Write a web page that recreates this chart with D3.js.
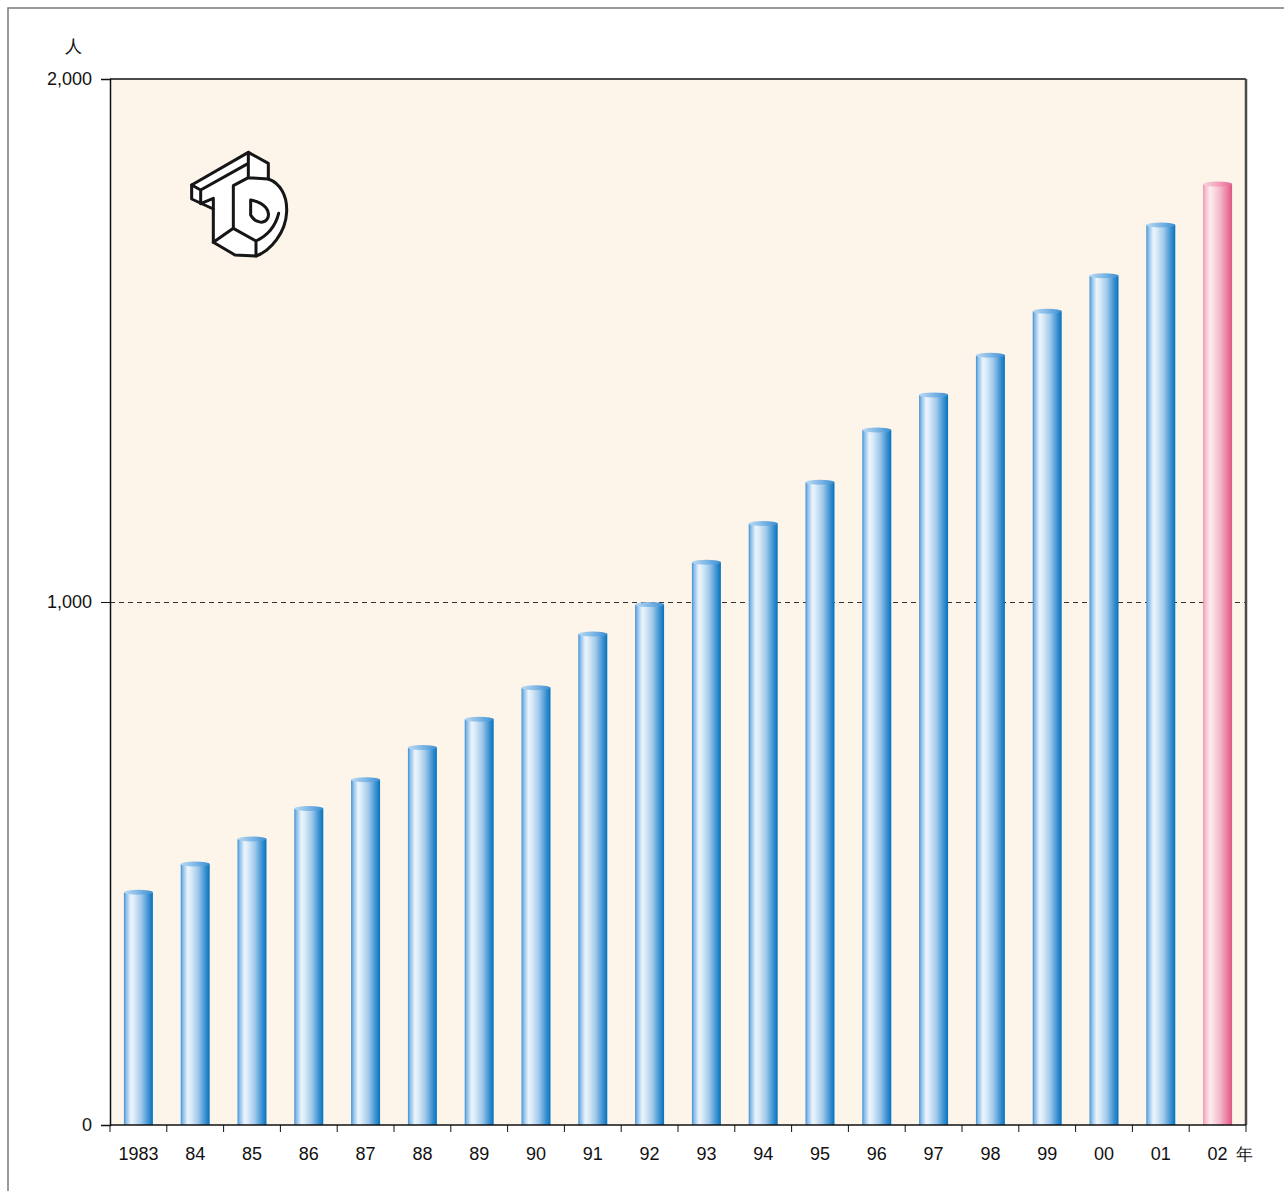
<!DOCTYPE html>
<html>
<head>
<meta charset="utf-8">
<script src="https://cdn.jsdelivr.net/npm/d3@7"></script>
<style>
  html, body { margin: 0; padding: 0; background: #ffffff; }
  svg { display: block; }
  text { font-family: "Liberation Sans", Arial, sans-serif; fill: #111; }
</style>
</head>
<body>
<div id="chart"></div>
<script>
const years = ["1983","84","85","86","87","88","89","90","91","92","93","94","95","96","97","98","99","00","01","02"];
const values = [445, 499, 547, 605, 660, 722, 776, 836, 939, 995, 1076, 1150, 1229, 1329, 1396, 1472, 1556, 1624, 1721, 1799];
const highlightYear = "02";
const yTicks = [0, 1000, 2000];
const yUnit = "人";
const xUnit = "年";

const W = 1284, H = 1191;
const plot = { left: 110, right: 1246, top: 79, bottom: 1125 };

const svg = d3.select("#chart").append("svg").attr("width", W).attr("height", H);

// outer frame
svg.append("rect").attr("x", 8).attr("y", 8).attr("width", 1300).attr("height", 1300)
  .attr("fill", "none").attr("stroke", "#7a7a7a").attr("stroke-width", 1.5);

const defs = svg.append("defs");
function grad(id, stops) {
  const g = defs.append("linearGradient").attr("id", id).attr("x1", "0%").attr("x2", "100%").attr("y1", "0%").attr("y2", "0%");
  stops.forEach(s => g.append("stop").attr("offset", s[0]).attr("stop-color", s[1]));
}
grad("blueBody", [["0%", "#3b8ed1"], ["7%", "#86bbe8"], ["24%", "#eaf4fc"], ["34%", "#dfedf9"], ["60%", "#a0c9eb"], ["84%", "#3f93d3"], ["100%", "#0672bb"]]);
grad("pinkBody", [["0%", "#ee8dab"], ["7%", "#f6bacb"], ["24%", "#fdebf0"], ["34%", "#fbdfe7"], ["60%", "#f5b5c7"], ["84%", "#ea7b9e"], ["100%", "#de5684"]]);
grad("blueTop", [["0%", "#b9d9f2"], ["50%", "#7fb7e6"], ["100%", "#3a8ed0"]]);
grad("pinkTop", [["0%", "#f9d4df"], ["50%", "#f2a3bb"], ["100%", "#e56a93"]]);
defs.append("filter").attr("id", "soft").append("feGaussianBlur").attr("stdDeviation", 0.55);

const x = d3.scaleBand().domain(years).range([plot.left, plot.right]).paddingInner(0.49).paddingOuter(0.245);
const y = d3.scaleLinear().domain([0, 2000]).range([plot.bottom, plot.top]);

// plot background
svg.append("rect").attr("x", plot.left).attr("y", plot.top)
  .attr("width", plot.right - plot.left).attr("height", plot.bottom - plot.top)
  .attr("fill", "#fdf5ea");

// dashed gridline at 1000
svg.append("line").attr("x1", plot.left).attr("x2", plot.right)
  .attr("y1", y(1000) + 0.5).attr("y2", y(1000) + 0.5)
  .attr("stroke", "#333").attr("stroke-width", 1).attr("stroke-dasharray", "5,4");

// bars
const bars = svg.append("g").selectAll("g").data(years.map((d, i) => ({ year: d, value: values[i] }))).join("g");
bars.append("rect")
  .attr("x", d => x(d.year)).attr("width", x.bandwidth())
  .attr("y", d => y(d.value)).attr("height", d => y(0) - y(d.value))
  .attr("fill", d => d.year === highlightYear ? "url(#pinkBody)" : "url(#blueBody)");
bars.append("ellipse")
  .attr("cx", d => x(d.year) + x.bandwidth() / 2).attr("cy", d => y(d.value))
  .attr("rx", x.bandwidth() / 2).attr("ry", 2.5)
  .attr("fill", d => d.year === highlightYear ? "url(#pinkTop)" : "url(#blueTop)");

// logo (decorative isometric "TB" mark)
const logo = svg.append("g").attr("transform", "translate(180,145) scale(0.3333)")
  .attr("filter", "url(#soft)")
  .attr("fill", "#ffffff").attr("stroke", "#141414").attr("stroke-width", 9)
  .attr("stroke-linejoin", "round").attr("stroke-linecap", "round");
logo.append("path").attr("d",
  "M205,22 L265,55 L265,102 C300,115 322,150 320,200 C318,262 272,318 228,333 L165,330 L100,292 L100,192 L35,162 L35,120 Z");
logo.append("path").attr("fill", "none").attr("d",
  "M35,120 L62,135 L62,176 M62,135 L205,55 M205,22 L205,98 L160,122 L160,250 M205,98 L265,102 M100,192 L100,160 L62,176 M160,250 L100,292 M160,250 L228,288 L228,333 M228,288 C262,272 286,245 296,205");
logo.append("path").attr("d",
  "M212,165 L212,210 C224,232 252,240 263,220 C272,198 256,174 212,165 Z");

// plot frame
svg.append("line").attr("x1", plot.left).attr("x2", plot.right).attr("y1", plot.top).attr("y2", plot.top)
  .attr("stroke", "#111").attr("stroke-width", 1.5);
svg.append("line").attr("x1", plot.right).attr("x2", plot.right).attr("y1", plot.top).attr("y2", plot.bottom)
  .attr("stroke", "#4a4a4a").attr("stroke-width", 2.5);

// y axis
const yAxis = svg.append("g").attr("transform", `translate(${plot.left},0)`)
  .call(d3.axisLeft(y).tickValues(yTicks).tickFormat(d3.format(",")).tickSize(9).tickPadding(9));
yAxis.select(".domain").attr("stroke", "#111").attr("stroke-width", 1.5);
yAxis.selectAll(".tick line").attr("stroke", "#111");
yAxis.selectAll("text").attr("font-size", 18).attr("font-family", "'Liberation Sans', Arial, sans-serif").attr("fill", "#111");

// x axis
const step = x.step();
const boundaries = d3.range(years.length + 1).map(i => plot.left + i * step);
svg.append("line").attr("x1", plot.left).attr("x2", plot.right).attr("y1", plot.bottom).attr("y2", plot.bottom)
  .attr("stroke", "#111").attr("stroke-width", 1.5);
svg.append("g").selectAll("line").data(boundaries).join("line")
  .attr("x1", d => d).attr("x2", d => d).attr("y1", plot.bottom).attr("y2", plot.bottom + 7)
  .attr("stroke", "#111").attr("stroke-width", 1);
svg.append("g").selectAll("text").data(years).join("text")
  .attr("x", d => x(d) + x.bandwidth() / 2).attr("y", 1159.5)
  .attr("text-anchor", "middle").attr("font-size", 18).text(d => d);

// unit labels
svg.append("text").attr("x", 73).attr("y", 52).attr("text-anchor", "middle")
  .attr("font-size", 17).attr("font-family", "'Noto Sans CJK JP', sans-serif").text(yUnit);
svg.append("text").attr("x", 1244).attr("y", 1160).attr("text-anchor", "middle")
  .attr("font-size", 17).attr("font-family", "'Noto Sans CJK JP', sans-serif").text(xUnit);
</script>
</body>
</html>
